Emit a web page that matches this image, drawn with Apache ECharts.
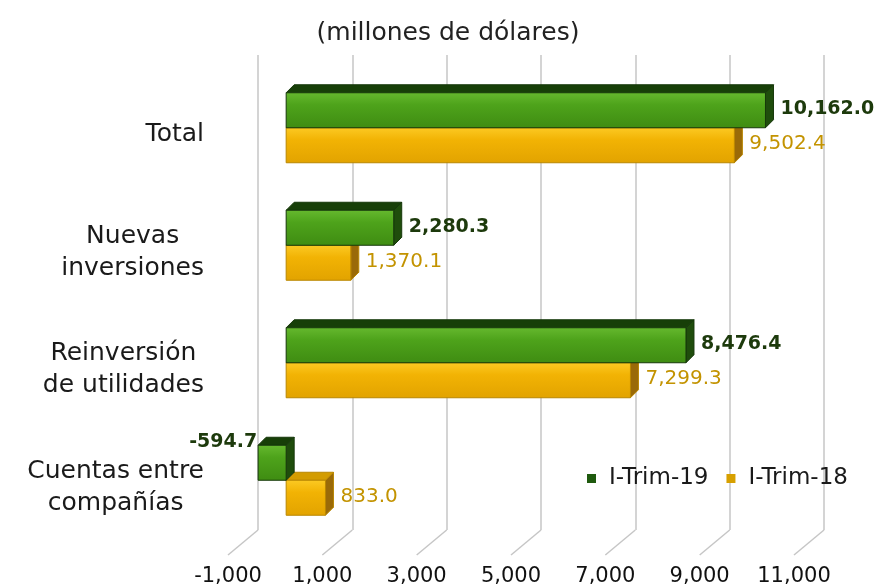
<!DOCTYPE html>
<html>
<head>
<meta charset="utf-8">
<style>
  html, body { margin: 0; padding: 0; background: #fff; }
  #chart { width: 878px; height: 586px; }
</style>
<script src="https://cdn.jsdelivr.net/npm/echarts@6/dist/echarts.min.js"></script>
</head>
<body>
<div id="chart"></div>
<script>
// datos
var categories = ['Total', 'Nuevas\ninversiones', 'Reinversión\nde utilidades', 'Cuentas entre\ncompañías'];
var trim19 = [10162.0, 2280.3, 8476.4, -594.7];
var trim18 = [9502.4, 1370.1, 7299.3, 833.0];
var seriesNames = ['I-Trim-19', 'I-Trim-18'];
var xMin = -1000;
var xMax = 11000;
var xStep = 2000;
var xTicks = [-1000, 1000, 3000, 5000, 7000, 9000, 11000];

var FONT = 'DejaVu Sans';
var BAR_H = 35;
var DEPTH = 8;
var GRID_COLOR = '#c6c6c6';

var green = {
  front: ['#66b92f', '#4ea31b', '#3f8c12'],
  top: '#173f08',
  side: '#1f4d0c',
  edge: '#16380a',
  text: '#1d3a0c',
  font: 'bold 19px "DejaVu Sans"'
};
var yellow = {
  front: ['#fcca24', '#f2b304', '#e2a300'],
  top: '#d39c00',
  side: '#9a6a08',
  edge: '#b98600',
  text: '#c39300',
  font: '20px "DejaVu Sans"'
};

function fmt(v, d) {
  return v.toLocaleString('en-US', { minimumFractionDigits: d, maximumFractionDigits: d });
}

function bar3d(pal, above) {
  return function (params, api) {
    var i = api.value(0);
    var v = api.value(1);
    var p0 = api.coord([0, i]);
    var p1 = api.coord([v, i]);
    var x0 = Math.min(p0[0], p1[0]);
    var x1 = Math.max(p0[0], p1[0]);
    var y0 = above ? p0[1] - BAR_H : p0[1];
    var y1 = y0 + BAR_H;
    var d = DEPTH;
    var lbl = v < 0
      ? { x: x0 - 1, y: y0 - 3, align: 'right' }
      : { x: x1 + d + 7, y: (y0 + y1) / 2 - 1, align: 'left' };
    return {
      type: 'group',
      children: [
        {
          type: 'polygon',
          shape: { points: [[x1, y0], [x1 + d, y0 - d], [x1 + d, y1 - d], [x1, y1]] },
          style: { fill: pal.side, stroke: pal.edge, lineWidth: 1 }
        },
        {
          type: 'polygon',
          shape: { points: [[x0, y0], [x0 + d, y0 - d], [x1 + d, y0 - d], [x1, y0]] },
          style: { fill: pal.top, stroke: pal.edge, lineWidth: 1 }
        },
        {
          type: 'rect',
          shape: { x: x0, y: y0, width: x1 - x0, height: BAR_H },
          style: {
            fill: new echarts.graphic.LinearGradient(0, 0, 0, 1, [
              { offset: 0, color: pal.front[0] },
              { offset: 0.35, color: pal.front[1] },
              { offset: 1, color: pal.front[2] }
            ]),
            stroke: pal.edge,
            lineWidth: 1
          }
        },
        {
          type: 'text',
          x: lbl.x,
          y: lbl.y,
          style: {
            text: fmt(v, 1),
            fill: pal.text,
            font: pal.font,
            align: lbl.align,
            verticalAlign: 'middle'
          }
        }
      ]
    };
  };
}

// lineas del piso (perspectiva)
function floorLine(params, api) {
  var p = api.coord([api.value(0), 0]);
  return {
    type: 'line',
    shape: { x1: p[0], y1: p[1], x2: p[0] - 30, y2: p[1] + 25 },
    style: { stroke: GRID_COLOR, lineWidth: 1.5 },
    silent: true
  };
}

var chart = echarts.init(document.getElementById('chart'), null, { renderer: 'canvas' });

var option = {
  backgroundColor: '#ffffff',
  animation: false,
  title: {
    text: '(millones de dólares)',
    left: 443,
    top: 16,
    textAlign: 'center',
    textStyle: { fontFamily: FONT, fontSize: 25, fontWeight: 'normal', color: '#222' }
  },
  legend: {
    data: seriesNames,
    left: 582,
    top: 462,
    icon: 'rect',
    itemWidth: 9,
    itemHeight: 9,
    itemGap: 18,
    textStyle: { fontFamily: FONT, fontSize: 23, color: '#1a1a1a', padding: [0, 0, 0, 8] }
  },
  grid: [
    { left: 239, width: 566, top: 69, height: 470 },
    { left: 258, width: 566, top: 55, height: 475 },
    { left: 228, width: 566, top: 555, height: 1 }
  ],
  xAxis: [
    {
      gridIndex: 0, type: 'value', min: xMin, max: xMax, interval: xStep,
      axisLine: { show: false }, axisTick: { show: false },
      axisLabel: { show: false }, splitLine: { show: false }
    },
    {
      gridIndex: 1, type: 'value', min: xMin, max: xMax, interval: xStep,
      axisLine: { show: false }, axisTick: { show: false },
      axisLabel: { show: false },
      splitLine: { show: true, lineStyle: { color: GRID_COLOR, width: 1.5 } }
    },
    {
      gridIndex: 2, type: 'value', min: xMin, max: xMax, interval: xStep,
      axisLine: { show: false }, axisTick: { show: false },
      splitLine: { show: false },
      axisLabel: {
        margin: 11, fontFamily: FONT, fontSize: 21, color: '#111',
        formatter: function (v) { return fmt(v, 0); }
      }
    }
  ],
  yAxis: [
    {
      gridIndex: 0, type: 'category', inverse: true, data: categories,
      axisLine: { show: false }, axisTick: { show: false }, splitLine: { show: false },
      axisLabel: {
        margin: 35,
        padding: [14, 0, 0, 0],
        fontFamily: FONT, fontSize: 25, color: '#1a1a1a',
        formatter: function (v) {
          return v.split('\n').map(function (s) { return '{c|' + s + '}'; }).join('\n');
        },
        rich: {
          c: { align: 'center', fontFamily: FONT, fontSize: 25, lineHeight: 32, color: '#1a1a1a' }
        }
      }
    },
    { gridIndex: 1, type: 'value', min: 0, max: 1, show: false },
    { gridIndex: 2, type: 'value', min: 0, max: 1, show: false }
  ],
  series: [
    {
      name: 'floor',
      type: 'custom',
      xAxisIndex: 1,
      yAxisIndex: 1,
      silent: true,
      renderItem: floorLine,
      data: xTicks.map(function (v) { return [v]; }),
      encode: { x: 0 },
      z: 1
    },
    {
      name: seriesNames[1],
      type: 'custom',
      xAxisIndex: 0,
      yAxisIndex: 0,
      renderItem: bar3d(yellow, false),
      itemStyle: { color: '#d7a000' },
      data: trim18.map(function (v, i) { return [i, v]; }),
      encode: { x: 1, y: 0 },
      z: 3
    },
    {
      name: seriesNames[0],
      type: 'custom',
      xAxisIndex: 0,
      yAxisIndex: 0,
      renderItem: bar3d(green, true),
      itemStyle: { color: '#1f5a0e' },
      data: trim19.map(function (v, i) { return [i, v]; }),
      encode: { x: 1, y: 0 },
      z: 4
    }
  ]
};

chart.setOption(option);
window.addEventListener('resize', function () { chart.resize(); });
</script>
</body>
</html>
